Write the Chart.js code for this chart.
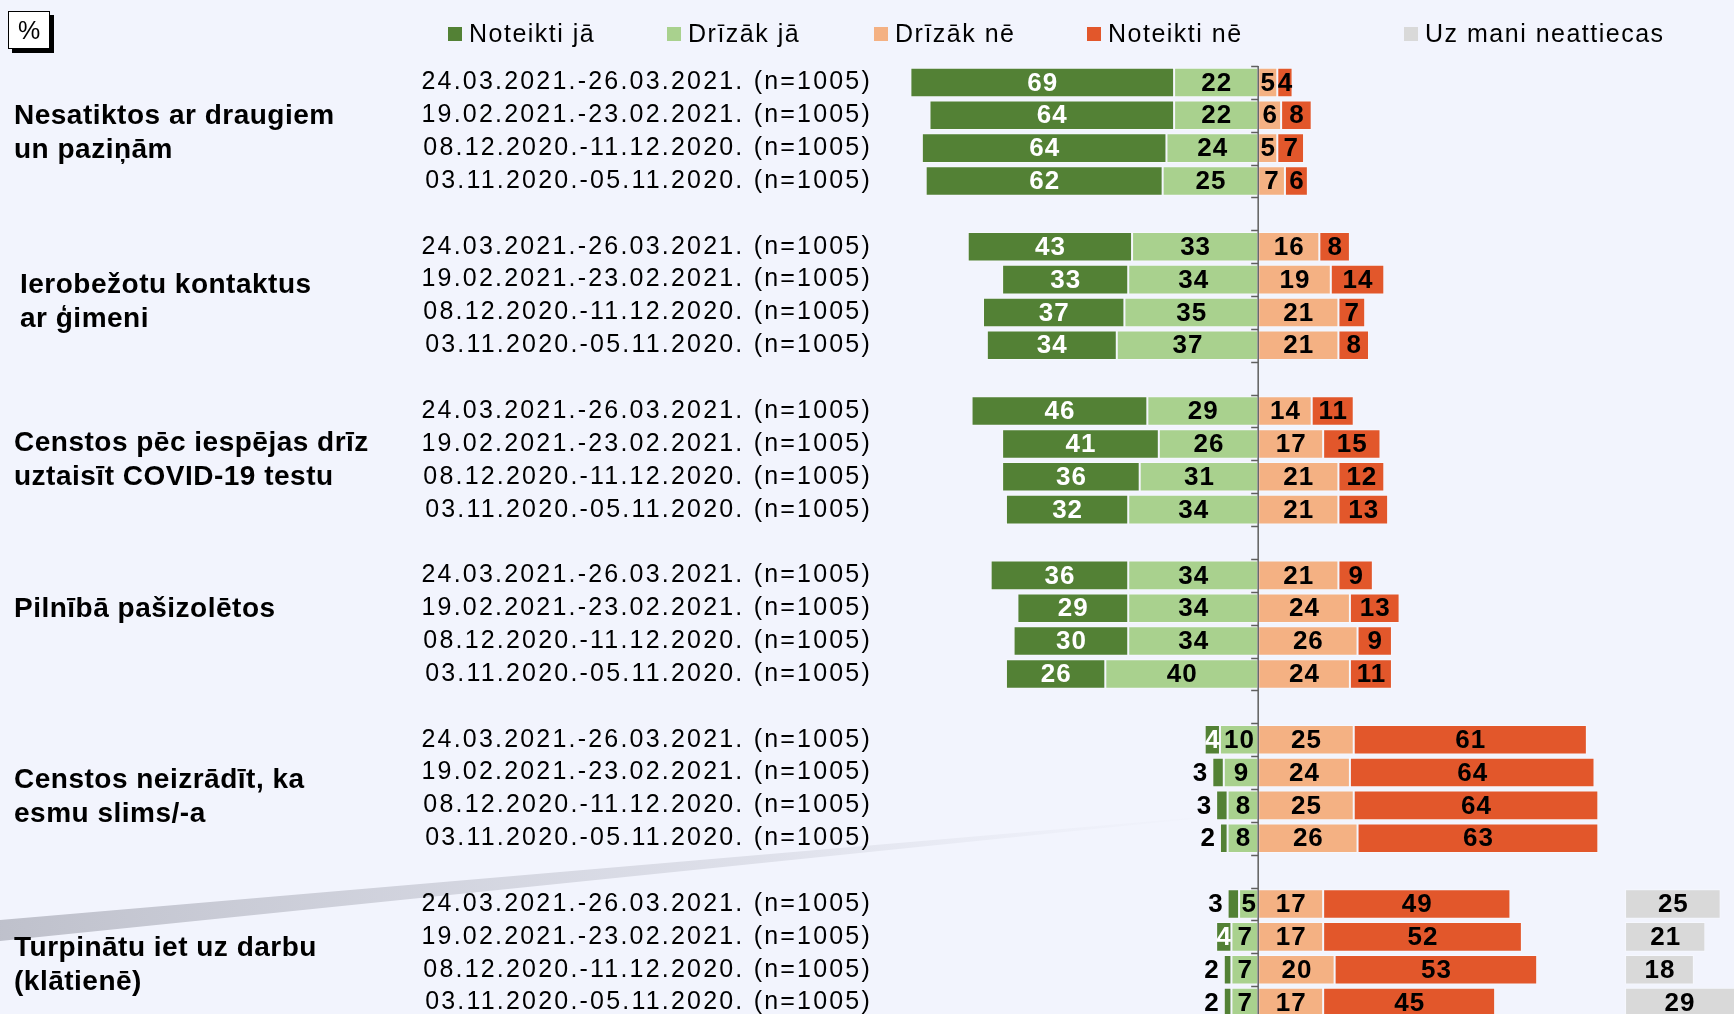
<!DOCTYPE html>
<html lang="lv">
<head>
<meta charset="utf-8">
<title>Rīcība saslimšanas gadījumā</title>
<script src="https://cdn.jsdelivr.net/npm/chart.js@4.4.1/dist/chart.umd.min.js"></script>
<style>
  html, body { margin: 0; padding: 0; background: #F2F4FD; overflow: hidden; }
  #wrap { position: relative; width: 1734px; height: 1038px; }
  #pct {
    position: absolute; left: 8px; top: 11px; width: 40px; height: 36px;
    background: #fff; border: 1.5px solid #000; box-shadow: 4px 4px 0 #000;
    font: 25px "Liberation Sans", Arial, sans-serif; line-height: 36px; text-align: center;
  }
</style>
</head>
<body>
<div id="wrap">
  <canvas id="chart"></canvas>
  <div id="pct">%</div>
</div>
<script>
// survey waves (same four for every statement)
const periods = [
  "24.03.2021.-26.03.2021. (n=1005)",
  "19.02.2021.-23.02.2021. (n=1005)",
  "08.12.2020.-11.12.2020. (n=1005)",
  "03.11.2020.-05.11.2020. (n=1005)"
];

const groupLabels = [
  ["Nesatiktos ar draugiem", "un paziņām"],
  ["Ierobežotu kontaktus", "ar ģimeni"],
  ["Censtos pēc iespējas drīz", "uztaisīt COVID-19 testu"],
  ["Pilnībā pašizolētos"],
  ["Censtos neizrādīt, ka", "esmu slims/-a"],
  ["Turpinātu iet uz darbu", "(klātienē)"]
];

const seriesNames = ["Noteikti jā", "Drīzāk jā", "Drīzāk nē", "Noteikti nē", "Uz mani neattiecas"];

// 6 statements x 4 waves
const noteiktiJa = [69, 64, 64, 62, 43, 33, 37, 34, 46, 41, 36, 32, 36, 29, 30, 26, 4, 3, 3, 2, 3, 4, 2, 2];
const drizakJa   = [22, 22, 24, 25, 33, 34, 35, 37, 29, 26, 31, 34, 34, 34, 34, 40, 10, 9, 8, 8, 5, 7, 7, 7];
const drizakNe   = [5, 6, 5, 7, 16, 19, 21, 21, 14, 17, 21, 21, 21, 24, 26, 24, 25, 24, 25, 26, 17, 17, 20, 17];
const noteiktiNe = [4, 8, 7, 6, 8, 14, 7, 8, 11, 15, 12, 13, 9, 13, 9, 11, 61, 64, 64, 63, 49, 52, 53, 45];
const uzManiNeattiecas = [null, null, null, null, null, null, null, null, null, null, null, null,
                          null, null, null, null, null, null, null, null, 25, 21, 18, 29];

const colors = ["#538135", "#A9D18E", "#F4B183", "#E2572B", "#D9D9D9"];
const naStart = 96; // where the "does not apply" column begins on the value axis

// insert an empty row between statements
function toRows(arr) {
  const out = [];
  arr.forEach((v, i) => {
    out.push(v);
    if (i % 4 === 3 && i < arr.length - 1) out.push(null);
  });
  return out;
}

const rowLabels = [];
groupLabels.forEach((g, i) => {
  periods.forEach(p => rowLabels.push(p));
  if (i < groupLabels.length - 1) rowLabels.push("");
});

const dg = toRows(noteiktiJa), lg = toRows(drizakJa), lo = toRows(drizakNe), rd = toRows(noteiktiNe), na = toRows(uzManiNeattiecas);

const ranges = [
  dg.map((v, k) => v == null ? null : [-(v + lg[k]), -lg[k]]),
  lg.map(v => v == null ? null : [-v, 0]),
  lo.map(v => v == null ? null : [0, v]),
  rd.map((v, k) => v == null ? null : [lo[k], lo[k] + v]),
  na.map(v => v == null ? null : [naStart, naStart + v])
];
const values = [dg, lg, lo, rd, na];

const FONT = '"Liberation Sans", Arial, sans-serif';

const decor = {
  id: "decor",
  beforeDraw(chart) {
    const ctx = chart.ctx;
    ctx.save();
    ctx.fillStyle = "#F2F4FD";
    ctx.fillRect(0, 0, chart.width, chart.height);
    // grey swoosh in the background
    const g = ctx.createLinearGradient(0, 0, 1260, 0);
    g.addColorStop(0, "rgba(188,190,201,0.95)");
    g.addColorStop(0.6, "rgba(208,210,221,0.6)");
    g.addColorStop(1, "rgba(230,232,242,0)");
    ctx.fillStyle = g;
    ctx.beginPath();
    ctx.moveTo(0, 920);
    ctx.lineTo(1260, 812);
    ctx.lineTo(0, 941);
    ctx.closePath();
    ctx.fill();
    ctx.restore();
    ctx.letterSpacing = "2.2px"; // wide-set tick labels
  },
  beforeDatasetsDraw(chart) {
    chart.ctx.letterSpacing = "0px";
  },
  afterDatasetsDraw(chart) {
    const ctx = chart.ctx;
    const xs = chart.scales.x, ys = chart.scales.y;
    const x0 = xs.getPixelForValue(0);
    const pitch = ys.getPixelForValue(1) - ys.getPixelForValue(0);

    // zero axis with small ticks between rows
    ctx.save();
    ctx.strokeStyle = "#5f5f5f";
    ctx.lineWidth = 1.5;
    ctx.beginPath();
    ctx.moveTo(x0, ys.top);
    ctx.lineTo(x0, chart.height);
    for (let i = 0; i <= rowLabels.length; i++) {
      const yy = Math.round(ys.getPixelForValue(i) - pitch / 2) + 0.5;
      ctx.moveTo(x0 - 7, yy);
      ctx.lineTo(x0, yy);
    }
    ctx.stroke();

    // value labels
    ctx.font = "bold 26px " + FONT;
    ctx.letterSpacing = "1px";
    ctx.textBaseline = "middle";
    chart.data.datasets.forEach((ds, di) => {
      const meta = chart.getDatasetMeta(di);
      meta.data.forEach((el, j) => {
        const v = values[di][j];
        if (v == null) return;
        const left = Math.min(el.x, el.base), right = Math.max(el.x, el.base);
        if (di === 0 && v <= 3) {
          ctx.fillStyle = "#000";
          ctx.textAlign = "right";
          ctx.fillText(String(v), left - 4, el.y + 1);
        } else {
          ctx.fillStyle = di === 0 ? "#fff" : "#000";
          ctx.textAlign = "center";
          ctx.fillText(String(v), (left + Math.min(right, chart.width)) / 2 + 0.5, el.y + 1);
        }
      });
    });

    // statement labels on the left
    const firstLine = [34, 39, 32, 34, 41, 44];
    const indent = [14, 20, 14, 14, 14, 14];
    ctx.font = "bold 28px " + FONT;
    ctx.letterSpacing = "0.5px";
    ctx.textAlign = "left";
    ctx.fillStyle = "#000";
    groupLabels.forEach((lines, g) => {
      const top = ys.getPixelForValue(g * 5);
      lines.forEach((t, li) => ctx.fillText(t, indent[g], top + firstLine[g] + li * 34));
    });

    // legend
    const legendX = [448, 667, 874, 1087, 1404];
    ctx.font = "25px " + FONT;
    ctx.letterSpacing = "1.5px";
    chart.data.datasets.forEach((ds, i) => {
      ctx.fillStyle = ds.backgroundColor;
      ctx.fillRect(legendX[i], 27, 14, 14);
      ctx.fillStyle = "#000";
      ctx.fillText(ds.label, legendX[i] + 21, 35);
    });
    ctx.restore();
    ctx.letterSpacing = "0px";
  }
};

new Chart(document.getElementById("chart"), {
  type: "bar",
  data: {
    labels: rowLabels,
    datasets: ranges.map((r, i) => ({
      label: seriesNames[i],
      data: r,
      backgroundColor: colors[i],
      borderColor: "rgba(255,255,255,0.35)",
      borderWidth: 1,
      borderSkipped: false,
      grouped: false,
      barPercentage: 0.9,
      categoryPercentage: 1
    }))
  },
  options: {
    indexAxis: "y",
    responsive: true,
    maintainAspectRatio: false,
    animation: false,
    events: [],
    layout: { padding: { top: 66, bottom: 0, left: 0, right: 0 } },
    scales: {
      x: { display: false, min: -100, max: 124.5 },
      y: {
        grid: { display: false, drawTicks: false },
        border: { display: false },
        ticks: {
          autoSkip: false,
          padding: 4,
          color: "#000",
          font: { family: "Liberation Sans", size: 25 }
        },
        afterFit(scale) { scale.width = 876; }
      }
    },
    plugins: {
      legend: { display: false },
      tooltip: { enabled: false }
    }
  },
  plugins: [decor]
});
</script>
</body>
</html>
